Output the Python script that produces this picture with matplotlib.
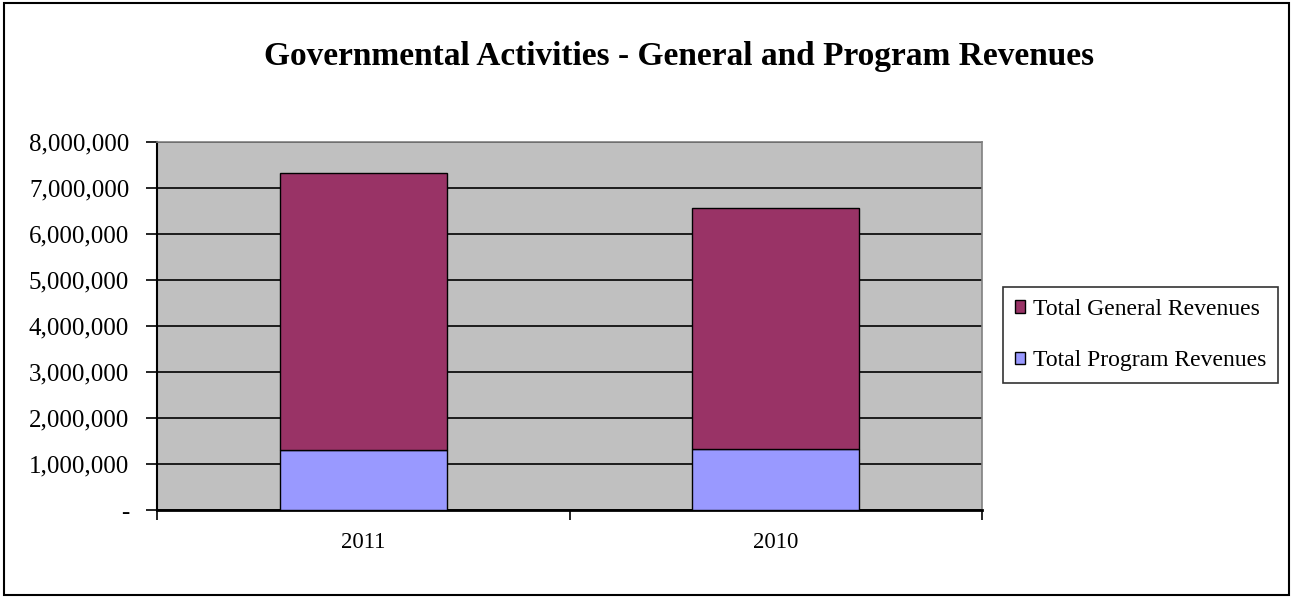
import matplotlib
matplotlib.use("Agg")
import matplotlib.pyplot as plt
from matplotlib.patches import Rectangle
from matplotlib.ticker import FuncFormatter, FixedLocator

years = ["2011", "2010"]
program_revenues = [1300000, 1320000]
general_revenues = [6020000, 5250000]

plt.rcParams['font.family'] = ['Liberation Serif', 'DejaVu Serif']

fig = plt.figure(figsize=(12.93, 5.97), dpi=100)
ax = fig.add_axes([157/1293, 1-510/597, (982-157)/1293, (510-142)/597])

x = list(range(len(years)))
ax.bar(x, program_revenues, width=0.405, color="#9999FF", edgecolor="black",
       linewidth=1.0, label="Total Program Revenues", zorder=3)
ax.bar(x, general_revenues, width=0.405, bottom=program_revenues, color="#993366",
       edgecolor="black", linewidth=1.0, label="Total General Revenues", zorder=3)

ax.set_facecolor("#C0C0C0")
ax.set_xlim(-0.5, 1.5)
ax.set_ylim(0, 8000000)
ax.set_yticks(range(0, 8000001, 1000000))
ax.yaxis.set_major_formatter(FuncFormatter(lambda v, p: "-" if v == 0 else f"{int(v):,}"))
ax.grid(axis="y", color="black", linewidth=1.2, zorder=1)
ax.set_axisbelow(True)

# category boundaries carry the tick marks, labels sit between them
ax.xaxis.set_major_locator(FixedLocator([-0.5, 0.5, 1.5]))
ax.xaxis.set_minor_locator(FixedLocator(x))
ax.set_xticklabels([], minor=False)
ax.set_xticklabels(years, minor=True)
ax.tick_params(axis="x", which="major", length=7, width=1.2, direction="out")
ax.tick_params(axis="x", which="minor", length=0, pad=16, labelsize=16.5)
ax.tick_params(axis="y", length=8, width=1.2, labelsize=18, pad=12)

ax.spines["left"].set_linewidth(1.5)
ax.spines["bottom"].set_linewidth(2.0)
for side in ("top", "right"):
    ax.spines[side].set_color("#808080")
    ax.spines[side].set_linewidth(1.2)

fig.text(679/1293, 1-56/597, "Governmental Activities - General and Program Revenues",
         ha="center", va="center", fontsize=24, fontweight="bold")

handles, labels = ax.get_legend_handles_labels()
leg = fig.legend(handles[::-1], labels[::-1], loc="center left",
                 bbox_to_anchor=(1003/1293, 1-335/597), fontsize=17, frameon=True,
                 fancybox=False, edgecolor="black", handlelength=0.45, handleheight=0.45,
                 handletextpad=0.3, labelspacing=1.3, borderpad=0.5, borderaxespad=0)
leg.get_frame().set_linewidth(1.2)

fig.patches.append(Rectangle((4/1293, 2/597), 1285/1293, 592/597, transform=fig.transFigure,
                             fill=False, edgecolor="black", linewidth=1.5))

fig.savefig("out.png", dpi=100)
